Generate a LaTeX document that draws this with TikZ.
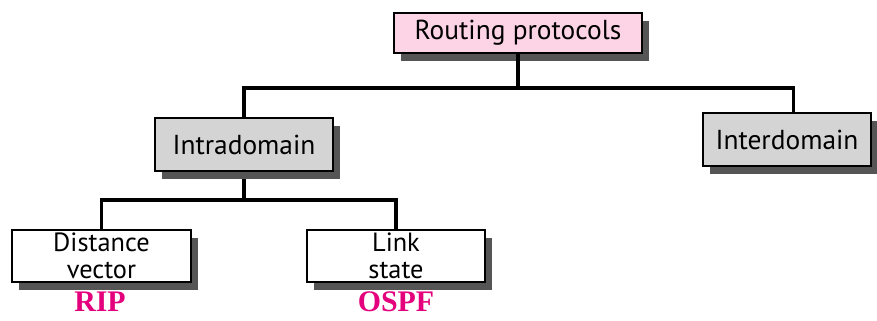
\documentclass[tikz,border=0pt]{standalone}
\usepackage{fontspec}
\setmainfont{PT Sans}
\newfontfamily\labelfont{Liberation Serif}
\usetikzlibrary{shadows}
\definecolor{boxpink}{RGB}{252,212,230}
\definecolor{boxgray}{RGB}{212,212,212}
\definecolor{shadowgray}{RGB}{85,85,85}
\definecolor{protomagenta}{RGB}{228,0,124}

\begin{document}
\begin{tikzpicture}[scale=1, auto,
	box/.style={draw, line width=1.3pt, inner sep=0pt, align=center,
		font=\fontsize{15.6}{14}\selectfont,
		drop shadow={shadow xshift=0.13cm, shadow yshift=-0.15cm, fill=shadowgray, opacity=1}},
	twoline/.style={font=\fontsize{15}{15.5}\selectfont},
	tree/.style={line width=2pt},
	proto/.style={text=protomagenta, font=\labelfont\bfseries\fontsize{17}{19}\selectfont}]
	\useasboundingbox (0,0) rectangle (17.54,6.4);

	\node (routing) [box, fill=boxpink, minimum width=4.96cm, minimum height=0.8cm] at (10.36,5.74) {Routing protocols};
	\node (intra) [box, fill=boxgray, minimum width=3.56cm, minimum height=1.06cm] at (4.88,3.51) {Intradomain};
	\node (inter) [box, fill=boxgray, minimum width=3.36cm, minimum height=1.06cm] at (15.74,3.61) {Interdomain};
	\node (distance) [box, twoline, fill=white, minimum width=3.58cm, minimum height=1.04cm] at (2.03,1.28) {Distance\\vector};
	\node (link) [box, twoline, fill=white, minimum width=3.56cm, minimum height=1.04cm] at (7.92,1.28) {Link\\state};
	\node (rip) [proto] at (2.0,0.36) {RIP};
	\node (ospf) [proto] at (7.92,0.36) {OSPF};

	\coordinate (topbus) at (0,4.64);
	\coordinate (intrabus) at (0,2.4);

	\draw [tree] (routing.south) -- (routing.south |- topbus) -| (intra.north);
	\draw [tree] (routing.south |- topbus) -| ([xshift=0.13cm]inter.north);
	\draw [tree] (intra.south) ++(0,-0.14) -- (intra.south |- intrabus) -| (distance.north);
	\draw [tree] (intra.south |- intrabus) -| (link.north);
\end{tikzpicture}
\end{document}
